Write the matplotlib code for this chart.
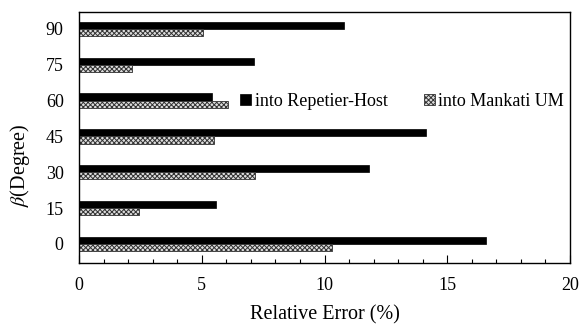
import matplotlib
matplotlib.use("Agg")
import matplotlib.pyplot as plt
import numpy as np

categories = ["0", "15", "30", "45", "60", "75", "90"]
repetier = [16.58, 5.58, 11.8, 14.15, 5.42, 7.13, 10.8]
mankati = [10.3, 2.44, 7.17, 5.5, 6.07, 2.16, 5.05]

plt.rcParams['font.family'] = ['Liberation Serif', 'DejaVu Serif']
plt.rcParams['mathtext.fontset'] = 'stix'
plt.rcParams['hatch.linewidth'] = 0.7
plt.rcParams['hatch.color'] = '#444444'

fig = plt.figure(figsize=(5.79, 3.29), dpi=100)
ax = fig.add_axes([79/579, 1-263/329, (570-79)/579, (263-12)/329])

y = np.arange(len(categories))
h = 0.2
ax.barh(y + h/2, repetier, height=h, color='black', edgecolor='black', linewidth=0.5,
        label='into Repetier-Host')
ax.barh(y - h/2, mankati, height=h, color='#dddddd', edgecolor='#333333', hatch='xxxxxxx',
        linewidth=0.6, label='into Mankati UM')

ax.set_xlim(0, 20)
ax.set_ylim(-0.53, 6.47)
ax.set_yticks(y)
ax.set_yticklabels(categories)
ax.set_xticks([0, 5, 10, 15, 20])
ax.set_xticks(np.arange(0, 21, 1), minor=True)
ax.tick_params(axis='x', which='major', direction='in', length=6, width=0.8, pad=10, labelsize=13)
ax.tick_params(axis='x', which='minor', direction='in', length=3, width=0.8)
ax.tick_params(axis='y', length=0, pad=11, labelsize=13)
for s in ax.spines.values():
    s.set_linewidth(1.0)
    s.set_color('black')

ax.set_xlabel('Relative Error (%)', fontsize=14.5, labelpad=8)
ax.set_ylabel(r'$\beta$(Degree)', fontsize=14.5)
ax.yaxis.set_label_coords(-0.095, 0.39)

ax.legend(loc='center', bbox_to_anchor=(0.658, 0.645), ncol=2, frameon=False,
          fontsize=13, handlelength=0.6, handleheight=0.6, handletextpad=0.2,
          columnspacing=2.0)

fig.savefig('out.png', dpi=100)
